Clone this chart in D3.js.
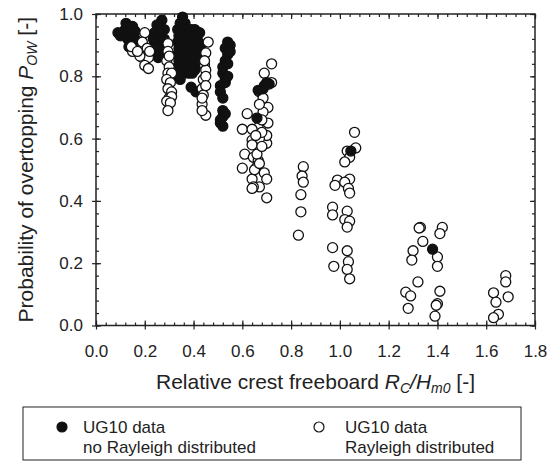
<!DOCTYPE html>
<html><head><meta charset="utf-8">
<script src="https://cdn.jsdelivr.net/npm/d3@7"></script>
<style>body{margin:0;background:#fff}svg{display:block}text{font-family:"Liberation Sans",Arial,sans-serif;fill:#222}</style>
</head><body><svg id="c" width="555" height="462"></svg>
<script>
// ---- data ----
const xTicks = [0.0,0.2,0.4,0.6,0.8,1.0,1.2,1.4,1.6,1.8];
const yTicks = [0.0,0.2,0.4,0.6,0.8,1.0];
const seriesNames = ["UG10 data|no Rayleigh distributed","UG10 data|Rayleigh distributed"];
// Rayleigh distributed (open circles): [Rc/Hm0, Pow]
const rayleighPts = [
 [0.15,0.88],[0.145,0.895],[0.20,0.94],[0.19,0.91],[0.21,0.89],[0.19,0.86],[0.215,0.86],[0.20,0.835],[0.215,0.825],[0.18,0.865],[0.22,0.88],[0.17,0.88],
 [0.295,0.905],[0.295,0.88],[0.29,0.85],[0.30,0.83],[0.295,0.81],[0.31,0.81],[0.29,0.79],[0.305,0.78],[0.295,0.76],[0.31,0.75],[0.30,0.73],[0.31,0.735],[0.29,0.72],[0.305,0.715],[0.295,0.69],[0.30,0.865],
 [0.46,0.91],[0.45,0.875],[0.445,0.836],[0.45,0.82],[0.44,0.79],[0.435,0.76],[0.44,0.74],[0.435,0.71],[0.45,0.675],[0.435,0.69],[0.45,0.80],[0.445,0.85],[0.45,0.77],[0.435,0.73],
 [0.72,0.84],[0.69,0.81],[0.72,0.78],[0.67,0.75],[0.685,0.73],[0.62,0.68],[0.705,0.70],[0.685,0.685],[0.705,0.65],[0.60,0.63],[0.665,0.635],[0.64,0.595],[0.70,0.585],[0.61,0.55],[0.645,0.54],[0.665,0.53],[0.60,0.505],[0.66,0.51],[0.69,0.49],[0.64,0.47],[0.67,0.445],[0.645,0.445],[0.70,0.41],[0.70,0.61],[0.67,0.60],[0.64,0.58],[0.64,0.44],[0.70,0.47],[0.64,0.63],[0.68,0.66],[0.66,0.55],[0.65,0.50],[0.68,0.62],[0.67,0.71],[0.67,0.52],[0.68,0.575],[0.655,0.61],
 [0.85,0.51],[0.845,0.48],[0.85,0.46],[0.84,0.42],[0.84,0.365],[0.83,0.29],
 [1.06,0.62],[1.03,0.56],[1.065,0.57],[1.04,0.54],[1.02,0.525],[0.99,0.467],[0.98,0.45],[1.04,0.47],[1.02,0.46],[1.035,0.44],[1.04,0.425],[0.97,0.38],[0.97,0.355],[1.03,0.367],[1.02,0.34],[1.04,0.335],[1.03,0.316],[0.97,0.25],[0.975,0.19],[1.03,0.24],[1.035,0.205],[1.03,0.18],[1.04,0.15],
 [1.33,0.315],[1.325,0.313],[1.34,0.27],[1.30,0.24],[1.295,0.21],[1.40,0.22],[1.40,0.19],[1.42,0.315],[1.41,0.295],[1.32,0.14],[1.27,0.107],[1.29,0.095],[1.28,0.055],[1.41,0.11],[1.40,0.07],[1.39,0.03],[1.395,0.065],
 [1.63,0.105],[1.64,0.075],[1.65,0.036],[1.63,0.025],[1.68,0.16],[1.68,0.14],[1.69,0.092]
];
// no Rayleigh distributed (filled circles)
const noRayleighPts = [
 [0.11,0.94],[0.12,0.95],[0.123,0.97],[0.13,0.96],[0.14,0.95],[0.15,0.94],[0.155,0.93],[0.12,0.93],[0.13,0.92],[0.14,0.91],[0.15,0.905],[0.16,0.92],[0.16,0.945],[0.13,0.94],[0.15,0.96],[0.10,0.93],[0.135,0.895],[0.09,0.94],
 [0.27,0.98],[0.25,0.965],[0.24,0.94],[0.26,0.92],[0.24,0.90],[0.25,0.88],[0.255,0.86],[0.28,0.95],[0.28,0.92],[0.27,0.89],[0.235,0.92],[0.245,0.91],[0.26,0.94],[0.265,0.87],[0.245,0.89],
 [0.355,0.99],[0.345,0.97],[0.365,0.97],
 [0.335,0.95],[0.35,0.95],[0.375,0.95],[0.39,0.95],[0.405,0.95],
 [0.34,0.93],[0.36,0.93],[0.38,0.93],[0.40,0.93],[0.415,0.93],[0.425,0.94],
 [0.335,0.91],[0.35,0.91],[0.37,0.91],[0.39,0.91],[0.405,0.91],[0.42,0.91],[0.43,0.90],
 [0.34,0.89],[0.36,0.89],[0.38,0.89],[0.40,0.89],[0.415,0.89],[0.43,0.88],
 [0.335,0.87],[0.35,0.87],[0.375,0.87],[0.39,0.87],[0.405,0.87],[0.42,0.86],
 [0.34,0.85],[0.36,0.85],[0.38,0.85],[0.40,0.85],[0.415,0.84],
 [0.335,0.83],[0.35,0.83],[0.37,0.83],[0.39,0.83],[0.405,0.82],
 [0.34,0.81],[0.36,0.81],[0.38,0.81],[0.395,0.81],
 [0.345,0.79],[0.34,0.80],[0.39,0.765],[0.41,0.75],
 [0.54,0.91],[0.55,0.90],[0.53,0.89],[0.54,0.87],[0.53,0.85],[0.52,0.83],[0.54,0.84],[0.52,0.81],[0.53,0.79],[0.51,0.77],[0.53,0.78],[0.51,0.75],[0.52,0.73],[0.54,0.80],[0.55,0.88],
 [0.52,0.69],[0.52,0.67],[0.51,0.65],[0.52,0.64],[0.53,0.68],[0.51,0.66],
 [0.69,0.77],[0.70,0.78],[0.71,0.775],[0.685,0.76],[0.665,0.755],[0.66,0.666],[1.045,0.56],[1.38,0.245]
];

// ---- layout ----
const svg = d3.select("#c");
const x = d3.scaleLinear().domain([0,1.8]).range([96,535]);
const y = d3.scaleLinear().domain([0,1]).range([325.5,14]);
const ink = "#222";
const fmt = d3.format(".1f");
const xMinor = d3.range(0,46).map(i=>i*0.04);
const yMinor = d3.range(0,26).map(i=>i*0.04);

// frame
svg.append("rect").attr("x",x(0)).attr("y",y(1)).attr("width",x(1.8)-x(0)).attr("height",y(0)-y(1))
  .attr("fill","none").attr("stroke",ink).attr("stroke-width",1.5);

function styleAxis(g){ g.select(".domain").remove(); g.selectAll("line").attr("stroke",ink).attr("stroke-width",1.2); g.selectAll("text").style("font-size","17px").attr("fill",ink); }

svg.append("g").attr("transform",`translate(0,${y(0)})`)
  .call(d3.axisBottom(x).tickValues(xTicks).tickSize(4).tickPadding(15).tickFormat(fmt)).call(styleAxis);
svg.append("g").attr("transform",`translate(0,${y(0)})`).call(d3.axisTop(x).tickValues(xMinor).tickSize(3).tickFormat("")).call(styleAxis);
svg.append("g").attr("transform",`translate(0,${y(0)})`).call(d3.axisTop(x).tickValues(xTicks).tickSize(5).tickFormat("")).call(styleAxis);
svg.append("g").attr("transform",`translate(0,${y(1)})`).call(d3.axisBottom(x).tickValues(xMinor).tickSize(3).tickFormat("")).call(styleAxis);
svg.append("g").attr("transform",`translate(0,${y(1)})`).call(d3.axisBottom(x).tickValues(xTicks).tickSize(5).tickFormat("")).call(styleAxis);
svg.append("g").attr("transform",`translate(${x(0)},0)`)
  .call(d3.axisLeft(y).tickValues(yTicks).tickSize(4).tickPadding(9).tickFormat(fmt)).call(styleAxis);
svg.append("g").attr("transform",`translate(${x(0)},0)`).call(d3.axisRight(y).tickValues(yMinor).tickSize(3).tickFormat("")).call(styleAxis);
svg.append("g").attr("transform",`translate(${x(0)},0)`).call(d3.axisRight(y).tickValues(yTicks).tickSize(5).tickFormat("")).call(styleAxis);
svg.append("g").attr("transform",`translate(${x(1.8)},0)`).call(d3.axisLeft(y).tickValues(yMinor).tickSize(3).tickFormat("")).call(styleAxis);
svg.append("g").attr("transform",`translate(${x(1.8)},0)`).call(d3.axisLeft(y).tickValues(yTicks).tickSize(5).tickFormat("")).call(styleAxis);

// points (draw order: left filled, open, then remaining filled)
const r = 5;
function dots(data, fill){
  svg.append("g").selectAll("circle").data(data).join("circle")
    .attr("cx",d=>x(d[0])).attr("cy",d=>y(d[1])).attr("r",r)
    .attr("fill",fill).attr("stroke","#111").attr("stroke-width",1.3);
}
dots(noRayleighPts.filter(d=>d[0]<0.6), "#111");
dots(rayleighPts, "#fff");
dots(noRayleighPts.filter(d=>d[0]>=0.6), "#111");

// axis titles
const xl = svg.append("text").attr("x",(x(0)+x(1.8))/2).attr("y",389).attr("text-anchor","middle").style("font-size","21px");
xl.append("tspan").text("Relative crest freeboard ");
xl.append("tspan").attr("font-style","italic").text("R");
xl.append("tspan").attr("font-style","italic").style("font-size","14px").attr("dy",4).text("C");
xl.append("tspan").attr("font-style","italic").attr("dy",-4).text("/H");
xl.append("tspan").attr("font-style","italic").style("font-size","14px").attr("dy",4).text("m0");
xl.append("tspan").attr("dy",-4).text(" [-]");

const yl = svg.append("text").attr("transform",`translate(33,${(y(0)+y(1))/2}) rotate(-90)`).attr("text-anchor","middle").style("font-size","21px");
yl.append("tspan").text("Probability of overtopping ");
yl.append("tspan").attr("font-style","italic").text("P");
yl.append("tspan").attr("font-style","italic").style("font-size","14px").attr("dy",4).text("OW");
yl.append("tspan").attr("dy",-4).text(" [-]");

// legend
const lg = svg.append("g");
lg.append("rect").attr("x",23).attr("y",407).attr("width",498).attr("height",53).attr("fill","none").attr("stroke",ink).attr("stroke-width",1);
const legendItems = [{x:62, tx:83, fill:"#111", name:seriesNames[0]},{x:319, tx:345, fill:"#fff", name:seriesNames[1]}];
legendItems.forEach(it=>{
  lg.append("circle").attr("cx",it.x).attr("cy",427).attr("r",5).attr("fill",it.fill).attr("stroke","#111").attr("stroke-width",1.2);
  const lines = it.name.split("|");
  lines.forEach((t,i)=>lg.append("text").attr("x",it.tx).attr("y",433+i*20).style("font-size","17px").text(t));
});
</script></body></html>
